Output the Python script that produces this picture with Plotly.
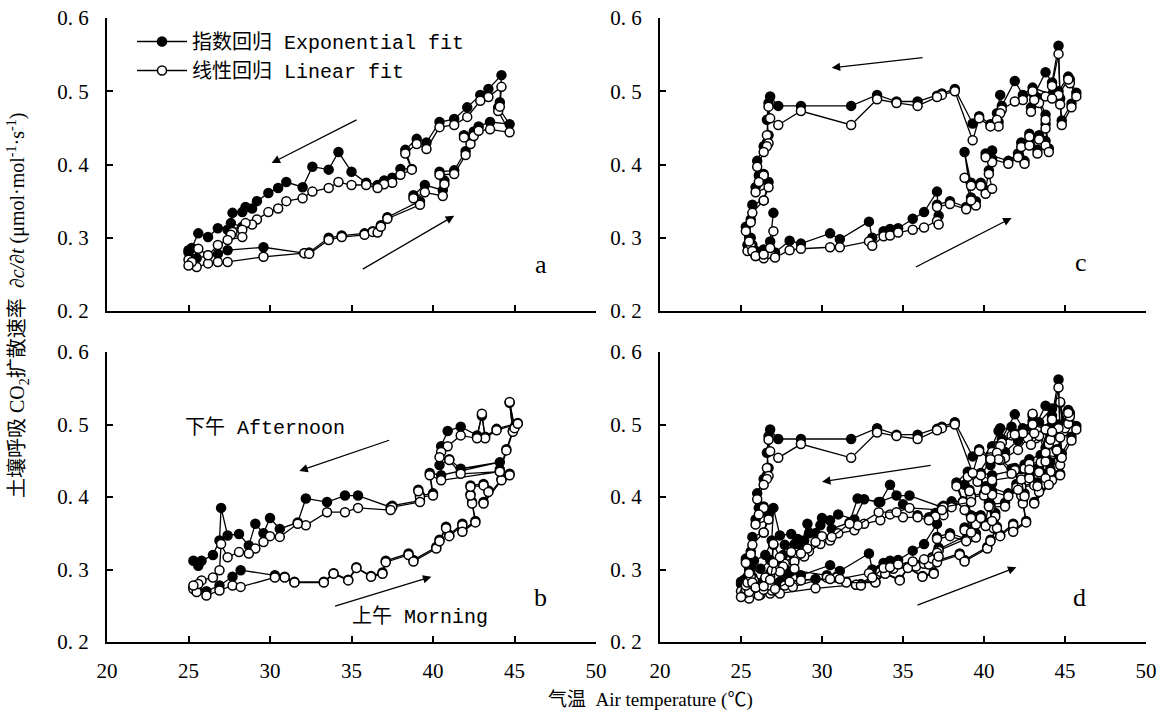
import plotly.graph_objects as go

# ---------------- data ----------------
# Panel a
a_T = [25.0, 25.5, 26.2, 26.8, 27.4, 29.6, 32.1, 32.4, 33.6, 34.4, 35.8, 36.3, 36.6, 36.8, 37.2, 39.2, 38.8,
       39.5, 40.6, 40.7, 40.4, 41.3, 42.0, 42.3, 41.9, 42.5, 42.8, 43.5, 44.7, 44.0, 44.1, 44.2,
       43.4, 42.9, 42.1, 41.3, 40.4, 39.6, 39.0, 38.3, 38.7, 38.0, 37.5, 37.0, 36.6, 35.9, 35.0, 34.2,
       33.6, 32.6, 32.0, 31.0, 30.5, 29.9, 29.2, 28.9, 28.5, 28.3, 27.7, 27.6, 28.3, 27.4, 26.8, 26.2,
       25.6, 25.2, 25.0]
a_lin = [0.270, 0.260, 0.265, 0.267, 0.267, 0.274, 0.279, 0.278, 0.297, 0.301, 0.304, 0.308, 0.307, 0.315, 0.326,
         0.345, 0.354, 0.362, 0.357, 0.373, 0.386, 0.387, 0.413, 0.428, 0.437, 0.439, 0.446, 0.448, 0.444, 0.473,
         0.479, 0.506,
         0.492, 0.487, 0.465, 0.454, 0.451, 0.421, 0.428, 0.415, 0.393, 0.386, 0.375, 0.373, 0.368, 0.372, 0.372,
         0.376, 0.368, 0.363, 0.354, 0.350, 0.340, 0.335, 0.325, 0.318, 0.320, 0.311, 0.308, 0.304, 0.301, 0.297,
         0.290, 0.276, 0.285, 0.267, 0.262]
a_exp = [0.280, 0.272, 0.276, 0.278, 0.283, 0.287, 0.279, 0.280, 0.300, 0.303, 0.306, 0.309, 0.309, 0.317, 0.328,
         0.350, 0.358, 0.372, 0.365, 0.378, 0.390, 0.392, 0.418, 0.433, 0.440, 0.445, 0.452, 0.458, 0.455, 0.478,
         0.485, 0.522,
         0.503, 0.495, 0.478, 0.462, 0.458, 0.430, 0.435, 0.420, 0.394, 0.394, 0.382, 0.378, 0.372, 0.375, 0.390,
         0.417, 0.393, 0.397, 0.369, 0.376, 0.368, 0.361, 0.350, 0.340, 0.342, 0.335, 0.334, 0.320, 0.315, 0.311,
         0.313, 0.301, 0.306, 0.286, 0.283]

# Panel b
b_T = [25.3, 25.5, 26.1, 26.9, 27.7, 28.2, 30.3, 30.9, 31.5, 33.3, 33.9, 34.8, 35.3, 36.2, 36.9, 37.1, 38.5,
       38.8, 40.2, 40.4, 40.8, 41.0, 41.8, 41.8, 42.6, 42.4, 42.3, 42.3, 43.1, 43.4, 43.1, 44.2, 44.7, 44.1,
       44.5, 44.9, 44.7, 45.0, 45.2,
       43.9, 43.2, 43.0, 42.7, 41.7, 40.9, 40.5, 40.4, 41.0, 41.7, 44.1, 40.5, 39.8, 40.0, 39.2, 39.1, 39.2,
       37.5, 37.4, 35.4, 34.6, 33.5, 32.2, 31.7, 30.6, 30.0, 29.6, 29.1, 28.7, 28.1, 27.4, 27.0, 26.9, 26.5,
       25.8, 25.6, 25.3]
b_lin = [0.273, 0.269, 0.264, 0.271, 0.278, 0.276, 0.289, 0.289, 0.282, 0.282, 0.294, 0.285, 0.302, 0.290, 0.294,
         0.310, 0.320, 0.311, 0.329, 0.339, 0.357, 0.346, 0.361, 0.352, 0.365, 0.391, 0.402, 0.414, 0.416, 0.407,
         0.391, 0.423, 0.430, 0.435, 0.464, 0.490, 0.531, 0.495, 0.501,
         0.492, 0.481, 0.515, 0.481, 0.485, 0.470, 0.462, 0.455, 0.451, 0.432, 0.435, 0.423, 0.430, 0.402, 0.400,
         0.408, 0.393, 0.386, 0.382, 0.385, 0.379, 0.379, 0.361, 0.363, 0.345, 0.346, 0.338, 0.329, 0.322, 0.324,
         0.317, 0.335, 0.299, 0.289, 0.285, 0.280, 0.278]
b_exp = [0.276, 0.275, 0.270, 0.278, 0.290, 0.299, 0.292, 0.290, 0.283, 0.283, 0.295, 0.286, 0.303, 0.291, 0.296,
         0.312, 0.322, 0.313, 0.331, 0.341, 0.359, 0.348, 0.363, 0.354, 0.367, 0.393, 0.404, 0.416, 0.418, 0.409,
         0.393, 0.425, 0.432, 0.438, 0.466, 0.492, 0.530, 0.497, 0.502,
         0.494, 0.483, 0.512, 0.485, 0.497, 0.491, 0.470, 0.444, 0.452, 0.439, 0.448, 0.430, 0.433, 0.405, 0.402,
         0.410, 0.395, 0.388, 0.386, 0.402, 0.402, 0.393, 0.398, 0.365, 0.356, 0.371, 0.350, 0.363, 0.333, 0.349,
         0.347, 0.385, 0.340, 0.320, 0.312, 0.305, 0.312]

# Panel c
c_T = [25.4, 25.6, 25.9, 26.4, 26.8, 27.1, 28.0, 28.7, 30.5, 31.1, 32.9, 33.1, 33.8, 34.2, 34.7, 35.6, 36.3,
       37.1, 37.2, 37.1, 37.9, 38.9, 39.5, 39.2, 38.8, 39.2, 39.8, 40.1, 40.5, 40.3, 40.5, 40.1, 41.5, 42.1,
       42.5, 42.3, 42.8, 43.3, 42.8, 43.4, 43.8, 44.0, 43.8, 43.8, 43.4, 42.9, 43.1, 43.8, 44.2, 44.6, 44.7,
       44.8, 45.4, 45.7, 45.3, 45.2,
       44.6, 44.2, 43.0, 42.4, 41.9, 41.1, 41.0, 40.8, 40.9, 40.4, 39.7, 39.3, 38.2, 37.4, 37.1, 35.9, 34.6,
       33.4, 31.8, 28.7, 27.3, 26.8, 26.7, 26.6, 26.7, 26.6, 26.4, 26.0, 26.4, 26.1, 25.9, 26.7, 26.4, 25.7,
       25.6, 25.3, 25.5, 25.7, 25.9, 26.4, 26.8, 27.0]
c_lin = [0.282, 0.290, 0.275, 0.272, 0.278, 0.273, 0.283, 0.285, 0.287, 0.287, 0.295, 0.289, 0.302, 0.303, 0.307,
         0.311, 0.314, 0.323, 0.318, 0.342, 0.346, 0.339, 0.344, 0.351, 0.382, 0.371, 0.371, 0.360, 0.367, 0.387,
         0.403, 0.410, 0.401, 0.410, 0.401, 0.424, 0.426, 0.415, 0.438, 0.434, 0.426, 0.417, 0.449, 0.461, 0.484,
         0.472, 0.488, 0.493, 0.507, 0.551, 0.482, 0.454, 0.478, 0.493, 0.511, 0.516,
         0.495, 0.490, 0.500, 0.488, 0.486, 0.475, 0.470, 0.461, 0.452, 0.452, 0.463, 0.433, 0.500, 0.495, 0.492,
         0.480, 0.484, 0.489, 0.454, 0.473, 0.454, 0.463, 0.479, 0.440, 0.429, 0.425, 0.417, 0.397, 0.385, 0.376,
         0.362, 0.369, 0.351, 0.334, 0.321, 0.309, 0.295, 0.282, 0.275, 0.277, 0.286, 0.309]
c_exp = [0.290, 0.300, 0.282, 0.278, 0.285, 0.280, 0.296, 0.292, 0.306, 0.298, 0.322, 0.300, 0.309, 0.312, 0.313,
         0.326, 0.335, 0.363, 0.330, 0.345, 0.350, 0.342, 0.350, 0.355, 0.417, 0.375, 0.375, 0.365, 0.419, 0.392,
         0.408, 0.415, 0.405, 0.415, 0.405, 0.430, 0.430, 0.420, 0.442, 0.440, 0.432, 0.422, 0.455, 0.468, 0.490,
         0.478, 0.495, 0.526, 0.512, 0.562, 0.490, 0.460, 0.483, 0.498, 0.516, 0.520,
         0.500, 0.495, 0.505, 0.495, 0.514, 0.480, 0.495, 0.470, 0.458, 0.455, 0.466, 0.456, 0.503, 0.497, 0.494,
         0.486, 0.486, 0.495, 0.480, 0.480, 0.480, 0.493, 0.484, 0.461, 0.440, 0.430, 0.425, 0.405, 0.387, 0.385,
         0.369, 0.376, 0.351, 0.345, 0.325, 0.315, 0.300, 0.290, 0.282, 0.284, 0.295, 0.334]

x_ticks = [20, 25, 30, 35, 40, 45, 50]
x_ticklabels = ["20", "25", "30", "35", "40", "45", "50"]
y_ticks = [0.2, 0.3, 0.4, 0.5, 0.6]
y_ticklabels = ["0. 2", "0. 3", "0. 4", "0. 5", "0. 6"]

exp_name = "指数回归 Exponential fit"
lin_name = "线性回归 Linear fit"

# ---------------- figure ----------------
SERIF = "Liberation Serif, Noto Sans CJK SC"
MONO = "Liberation Mono, Noto Sans CJK SC"

fig = go.Figure()

def add_pair(T, ve, vl, xa, ya, legend=False):
    fig.add_trace(go.Scatter(x=T, y=ve, mode="lines+markers", name=exp_name, xaxis=xa, yaxis=ya,
                             showlegend=legend, legendgroup="e",
                             line=dict(color="black", width=1.3),
                             marker=dict(symbol="circle", size=9, color="black",
                                         line=dict(color="black", width=1.5))))
    fig.add_trace(go.Scatter(x=T, y=vl, mode="lines+markers", name=lin_name, xaxis=xa, yaxis=ya,
                             showlegend=legend, legendgroup="l",
                             line=dict(color="black", width=1.3),
                             marker=dict(symbol="circle", size=9, color="white",
                                         line=dict(color="black", width=1.5))))

add_pair(a_T, a_exp, a_lin, "x", "y", legend=True)
add_pair(c_T, c_exp, c_lin, "x2", "y2")
add_pair(b_T, b_exp, b_lin, "x3", "y3")

# panel d: all data together
for T, ve in [(a_T, a_exp), (b_T, b_exp), (c_T, c_exp)]:
    fig.add_trace(go.Scatter(x=T, y=ve, mode="lines+markers", xaxis="x4", yaxis="y4", showlegend=False,
                             line=dict(color="black", width=1.3),
                             marker=dict(size=9, color="black", line=dict(color="black", width=1.5))))
for T, vl in [(a_T, a_lin), (b_T, b_lin), (c_T, c_lin)]:
    fig.add_trace(go.Scatter(x=T, y=vl, mode="lines+markers", xaxis="x4", yaxis="y4", showlegend=False,
                             line=dict(color="black", width=1.3),
                             marker=dict(size=9, color="white", line=dict(color="black", width=1.5))))

xdom_l = [107 / 1157, 596 / 1157]
xdom_r = [660 / 1157, 1146 / 1157]
ydom_t = [405 / 716, 698 / 716]
ydom_b = [74 / 716, 364 / 716]

def xax(dom, anchor, labels):
    return dict(domain=dom, anchor=anchor, range=[20, 50], showgrid=False, zeroline=False,
                automargin=False,
                showline=True, linecolor="black", linewidth=2, ticks="inside", ticklen=6,
                tickwidth=1.5, tickcolor="black", tickvals=x_ticks, ticktext=x_ticklabels,
                showticklabels=labels, tickfont=dict(family=SERIF, size=21, color="black"),
                ticklabelstandoff=9)

def yax(dom, anchor):
    return dict(domain=dom, anchor=anchor, range=[0.2, 0.6], showgrid=False, zeroline=False,
                automargin=False,
                showline=True, linecolor="black", linewidth=2, ticks="inside", ticklen=6,
                tickwidth=1.5, tickcolor="black", tickvals=y_ticks, ticktext=y_ticklabels,
                tickfont=dict(family=SERIF, size=21, color="black"), ticklabelstandoff=12)

fig.update_layout(
    width=1157, height=716, margin=dict(l=0, r=0, t=0, b=0, pad=0, autoexpand=False),
    paper_bgcolor="white", plot_bgcolor="white",
    xaxis=xax(xdom_l, "y", False), yaxis=yax(ydom_t, "x"),
    xaxis2=xax(xdom_r, "y2", False), yaxis2=yax(ydom_t, "x2"),
    xaxis3=xax(xdom_l, "y3", True), yaxis3=yax(ydom_b, "x3"),
    xaxis4=xax(xdom_r, "y4", True), yaxis4=yax(ydom_b, "x4"),
    legend=dict(x=132 / 1157, y=1 - 22 / 716, xanchor="left", yanchor="top",
                font=dict(family=MONO, size=20, color="black"), itemwidth=50,
                bgcolor="rgba(0,0,0,0)", tracegroupgap=14, traceorder="normal"),
    showlegend=True,
)

ann = []
# arrows: (axis suffix, tail T, tail v, head T, head v)
arrows = [("", 35.4, 0.462, 30.1, 0.402), ("", 35.6, 0.256, 41.3, 0.330),
          ("2", 36.3, 0.546, 30.6, 0.532), ("2", 35.7, 0.259, 41.7, 0.327),
          ("3", 37.4, 0.479, 31.8, 0.436), ("3", 33.9, 0.249, 39.9, 0.290),
          ("4", 36.8, 0.444, 30.0, 0.421), ("4", 35.8, 0.250, 42.0, 0.303)]
for s, tx, ty, hx, hy in arrows:
    ann.append(dict(x=hx, y=hy, ax=tx, ay=ty, xref="x" + s, yref="y" + s, axref="x" + s, ayref="y" + s,
                    text="", showarrow=True, arrowhead=2, arrowsize=1.3, arrowwidth=1.3, arrowcolor="black"))

for s, lab, tx, ty in [("", "a", 46.6, 0.264), ("2", "c", 46.0, 0.266), ("3", "b", 46.6, 0.262),
                       ("4", "d", 45.9, 0.262)]:
    ann.append(dict(x=tx, y=ty, xref="x" + s, yref="y" + s, text=lab, showarrow=False,
                    font=dict(family=SERIF, size=26, color="black")))

ann.append(dict(x=24.66, y=0.495, xref="x3", yref="y3", text="下午 Afternoon", showarrow=False,
                xanchor="left", font=dict(family=MONO, size=20, color="black")))
ann.append(dict(x=34.9, y=0.234, xref="x3", yref="y3", text="上午 Morning", showarrow=False,
                xanchor="left", font=dict(family=MONO, size=20, color="black")))

ann.append(dict(x=18 / 1157, y=1 - 306 / 716, xref="paper", yref="paper", textangle=-90, showarrow=False,
                xanchor="center", yanchor="middle",
                text="土壤呼吸 CO<sub>2</sub>扩散速率  <i>∂c/∂t</i> (μmol·mol<sup>-1</sup>·s<sup>-1</sup>)",
                font=dict(family=SERIF, size=20, color="black")))
ann.append(dict(x=650 / 1157, y=1 - 700 / 716, xref="paper", yref="paper", showarrow=False,
                xanchor="center", yanchor="middle",
                text="气温  Air temperature (℃)", font=dict(family=SERIF, size=19, color="black")))
fig.update_layout(annotations=ann)

fig.write_html("out.html")
